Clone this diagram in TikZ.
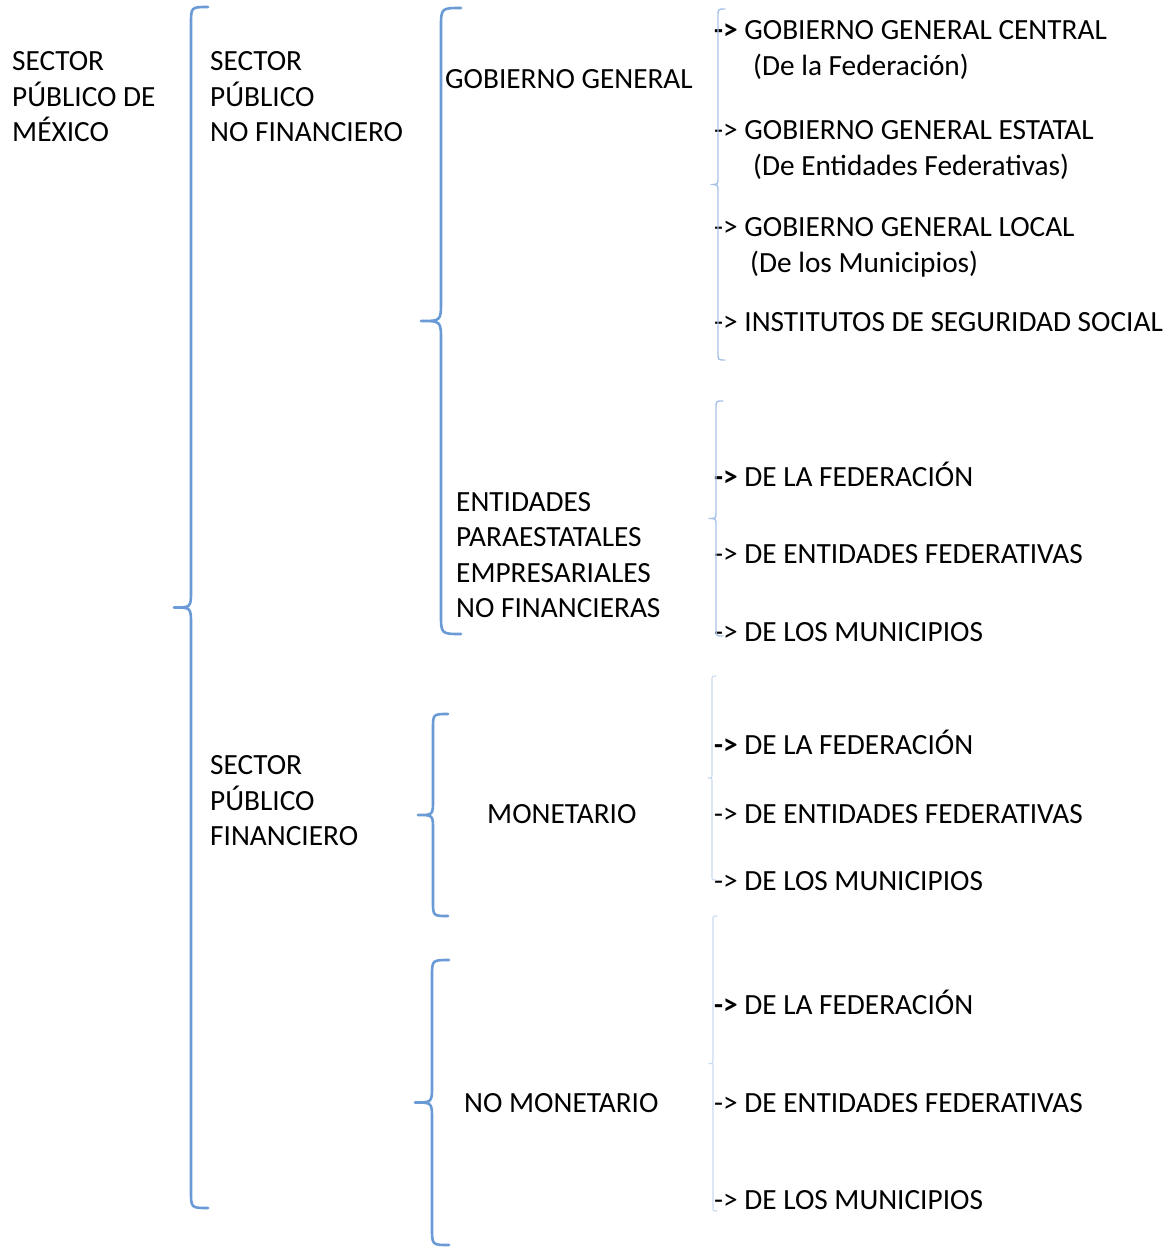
\documentclass[tikz,border=0pt]{standalone}
\usepackage{fontspec}
\setmainfont{Carlito}
\definecolor{llaveazul}{HTML}{6B9BD6}
\definecolor{llaveclara}{HTML}{A7C2E8}
\definecolor{llavetenue}{HTML}{C9D9EF}
% llave: x, arriba, abajo, ancho del gancho
\newcommand{\llave}[5][]{%
  \draw[llave,#1] ({#2+#5},#3) .. controls (#2,#3) .. (#2,{#3+#5})
    -- (#2,{(#3+#4)/2-#5}) .. controls (#2,{(#3+#4)/2}) .. ({#2-#5},{(#3+#4)/2})
    .. controls (#2,{(#3+#4)/2}) .. (#2,{(#3+#4)/2+#5})
    -- (#2,{#4-#5}) .. controls (#2,#4) .. ({#2+#5},#4);}
\begin{document}
\begin{tikzpicture}
  [x=1pt,y=-1pt,
   txt/.style={anchor=base west,inner sep=0pt,align=left,
     font=\fontsize{29.3}{35.5}\selectfont},
   llave/.style={draw=llaveazul,line width=2.6pt,line cap=round,line join=round}]
  \useasboundingbox (0,0) rectangle (1172,1247);
  \node[txt] (spm)  at (12,141.5)  {SECTOR\\PÚBLICO DE\\MÉXICO};
  \node[txt] (spnf) at (210,141.5) {SECTOR\\PÚBLICO\\NO FINANCIERO};
  \node[txt] (gg)   at (445,88.5)  {GOBIERNO GENERAL};
  \node[txt] (ggc)  at (714,39.5)  {\textbf{->} GOBIERNO GENERAL CENTRAL};
  \node[txt] (ggcf) at (753,75.5)  {(De la Federación)};
  \node[txt] (gge)  at (714,139.5) {-> GOBIERNO GENERAL ESTATAL};
  \node[txt] (ggef) at (753,175.5) {(De Entidades Federativas)};
  \node[txt] (ggl)  at (714,236.5) {-> GOBIERNO GENERAL LOCAL};
  \node[txt] (gglm) at (750,272.5) {(De los Municipios)};
  \node[txt] (iss)  at (714,331.5) {-> INSTITUTOS DE SEGURIDAD SOCIAL};
  \node[txt] (epe)  at (456,617.5) {ENTIDADES\\PARAESTATALES\\EMPRESARIALES\\NO FINANCIERAS};
  \node[txt] (spf)  at (210,845.5) {SECTOR\\PÚBLICO\\FINANCIERO};
  \node[txt] (mon)  at (487,823.5) {MONETARIO};
  \node[txt] (nmon) at (464,1112.5) {NO MONETARIO};

\foreach \n/\ya/\yb/\yc in
{ep/486.5/563.5/641.5, mo/754.5/823.5/890.5, nm/1014.5/1112.5/1209.5}
  {
  \node[txt] (\n-fed) at (714,\ya) {\textbf{->} DE LA FEDERACIÓN};
  \node[txt] (\n-ent) at (714,\yb) {-> DE ENTIDADES FEDERATIVAS};
  \node[txt] (\n-mun) at (714,\yc) {-> DE LOS MUNICIPIOS};
  }

  \llave{191}{7}{1208}{17}
  \llave{441}{8}{634}{20}
  \llave{433}{714}{916}{15}
  \llave{432}{960}{1245}{17}
  \llave[draw=llaveclara,line width=1.4pt]{718}{9}{360}{7}
  \llave[draw=llaveclara,line width=1.4pt]{716}{401}{636}{7}
  \llave[draw=llavetenue,line width=1.1pt]{712}{676}{880}{4}
  \llave[draw=llavetenue,line width=1.1pt]{713}{916}{1211}{4}
\end{tikzpicture}
\end{document}
